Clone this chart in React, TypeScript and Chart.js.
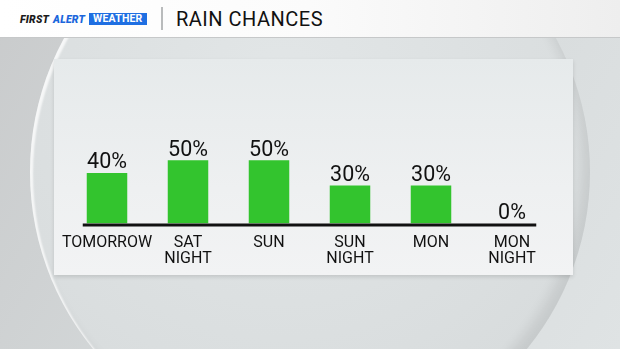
import React, { useEffect, useRef } from "react";
import { Chart, registerables } from "chart.js";

Chart.register(...registerables);

const categories: string[][] = [
  ["TOMORROW"],
  ["SAT", "NIGHT"],
  ["SUN"],
  ["SUN", "NIGHT"],
  ["MON"],
  ["MON", "NIGHT"],
];
const rainChances: number[] = [40, 50, 50, 30, 30, 0];
const valueLabels: string[] = rainChances.map((v) => `${v}%`);

const FONT = "Roboto, 'Noto Sans', sans-serif";

export default function App() {
  const ref = useRef<HTMLCanvasElement | null>(null);

  useEffect(() => {
    if (!ref.current) return;
    const labelPlugin = {
      id: "valueLabels",
      afterDatasetsDraw(chart: any) {
        const ctx = chart.ctx;
        const meta = chart.getDatasetMeta(0);
        const area = chart.chartArea;
        const first = meta.data[0];
        const last = meta.data[meta.data.length - 1];
        ctx.save();
        ctx.fillStyle = "#111111";
        const x0 = first.x - first.width / 2 - 4;
        const x1 = last.x + last.width / 2 + 4;
        ctx.fillRect(x0, area.bottom, x1 - x0, 3);
        ctx.font = `21.5px ${FONT}`;
        ctx.textAlign = "center";
        ctx.textBaseline = "alphabetic";
        meta.data.forEach((bar: any, i: number) => {
          ctx.fillText(valueLabels[i], bar.x, bar.y - 4.5);
        });
        ctx.restore();
      },
    };

    const chart = new Chart(ref.current, {
      type: "bar",
      data: {
        labels: categories,
        datasets: [
          {
            data: rainChances,
            backgroundColor: "#33c42e",
            borderWidth: 0,
            categoryPercentage: 1,
            barPercentage: 0.5,
          },
        ],
      },
      options: {
        animation: false,
        responsive: false,
        devicePixelRatio: 1,
        layout: { padding: { left: 12.5, right: 20.5, top: 38, bottom: 0 } },
        plugins: {
          legend: { display: false },
          tooltip: { enabled: false },
        },
        scales: {
          x: {
            grid: { display: false, drawTicks: false, tickLength: 0 },
            border: { display: false },
            ticks: {
              color: "#111111",
              font: { family: FONT, size: 16, lineHeight: 1.0 },
              padding: 11,
              maxRotation: 0,
              autoSkip: false,
            },
            afterFit: (scale: any) => {
              scale.height = 51.5;
              scale.paddingLeft = 0;
              scale.paddingRight = 0;
            },
          },
          y: { display: false, min: 0, max: 100 },
        },
      },
      plugins: [labelPlugin],
    });
    return () => chart.destroy();
  }, []);

  return (
    <div
      style={{
        position: "fixed",
        left: 0,
        top: 0,
        width: 620,
        height: 349,
        overflow: "hidden",
        background: "linear-gradient(120deg, #c9cbcc 0%, #d4d8d9 45%, #dfe3e4 100%)",
        fontFamily: FONT,
      }}
    >
      <div
        style={{
          position: "absolute",
          left: 30,
          top: -108,
          width: 560,
          height: 560,
          borderRadius: "50%",
          background:
            "radial-gradient(circle at 45% 35%, #e2e6e7 0%, #dadedf 60%, #d6dadb 85%, #cdd1d2 100%)",
          boxShadow:
            "inset 3px 2px 2px rgba(255,255,255,0.75), inset -8px -8px 12px rgba(0,0,0,0.08)",
        }}
      />
      <div
        style={{
          position: "absolute",
          left: 0,
          top: 0,
          width: 620,
          height: 37,
          background: "linear-gradient(to right, #ffffff 0%, #fbfbfb 50%, #eeeeee 100%)",
          borderBottom: "1px solid #c6c8c9",
        }}
      >
        <div
          style={{
            position: "absolute",
            left: 20,
            top: 12,
            height: 14,
            display: "flex",
            alignItems: "center",
            fontSize: 10.5,
            fontWeight: 900,
            fontStyle: "italic",
            letterSpacing: 0.2,
            whiteSpace: "nowrap",
          }}
        >
          <span style={{ color: "#1a1a1a" }}>FIRST</span>
          <span style={{ color: "#1a66dc", marginLeft: 4 }}>ALERT</span>
          <span
            style={{
              color: "#ffffff",
              background: "#1f6fe2",
              marginLeft: 4,
              padding: "0 4px",
              height: 12,
              lineHeight: "12px",
              fontStyle: "normal",
              fontWeight: 700,
            }}
          >
            WEATHER
          </span>
        </div>
        <div
          style={{
            position: "absolute",
            left: 161,
            top: 7,
            width: 2,
            height: 23,
            background: "#b9bbbc",
          }}
        />
        <div
          style={{
            position: "absolute",
            left: 176,
            top: 6,
            fontSize: 20,
            lineHeight: "26px",
            letterSpacing: 0.5,
            color: "#111111",
            whiteSpace: "nowrap",
          }}
        >
          RAIN CHANCES
        </div>
      </div>
      <div
        style={{
          position: "absolute",
          left: 54,
          top: 59,
          width: 519,
          height: 216,
          background: "linear-gradient(to bottom, #e6eaeb 0%, #eef0f1 60%, #f2f3f4 100%)",
          boxShadow: "0 2px 4px rgba(0,0,0,0.12)",
        }}
      >
        <canvas ref={ref} width={519} height={216} style={{ display: "block" }} />
      </div>
    </div>
  );
}
